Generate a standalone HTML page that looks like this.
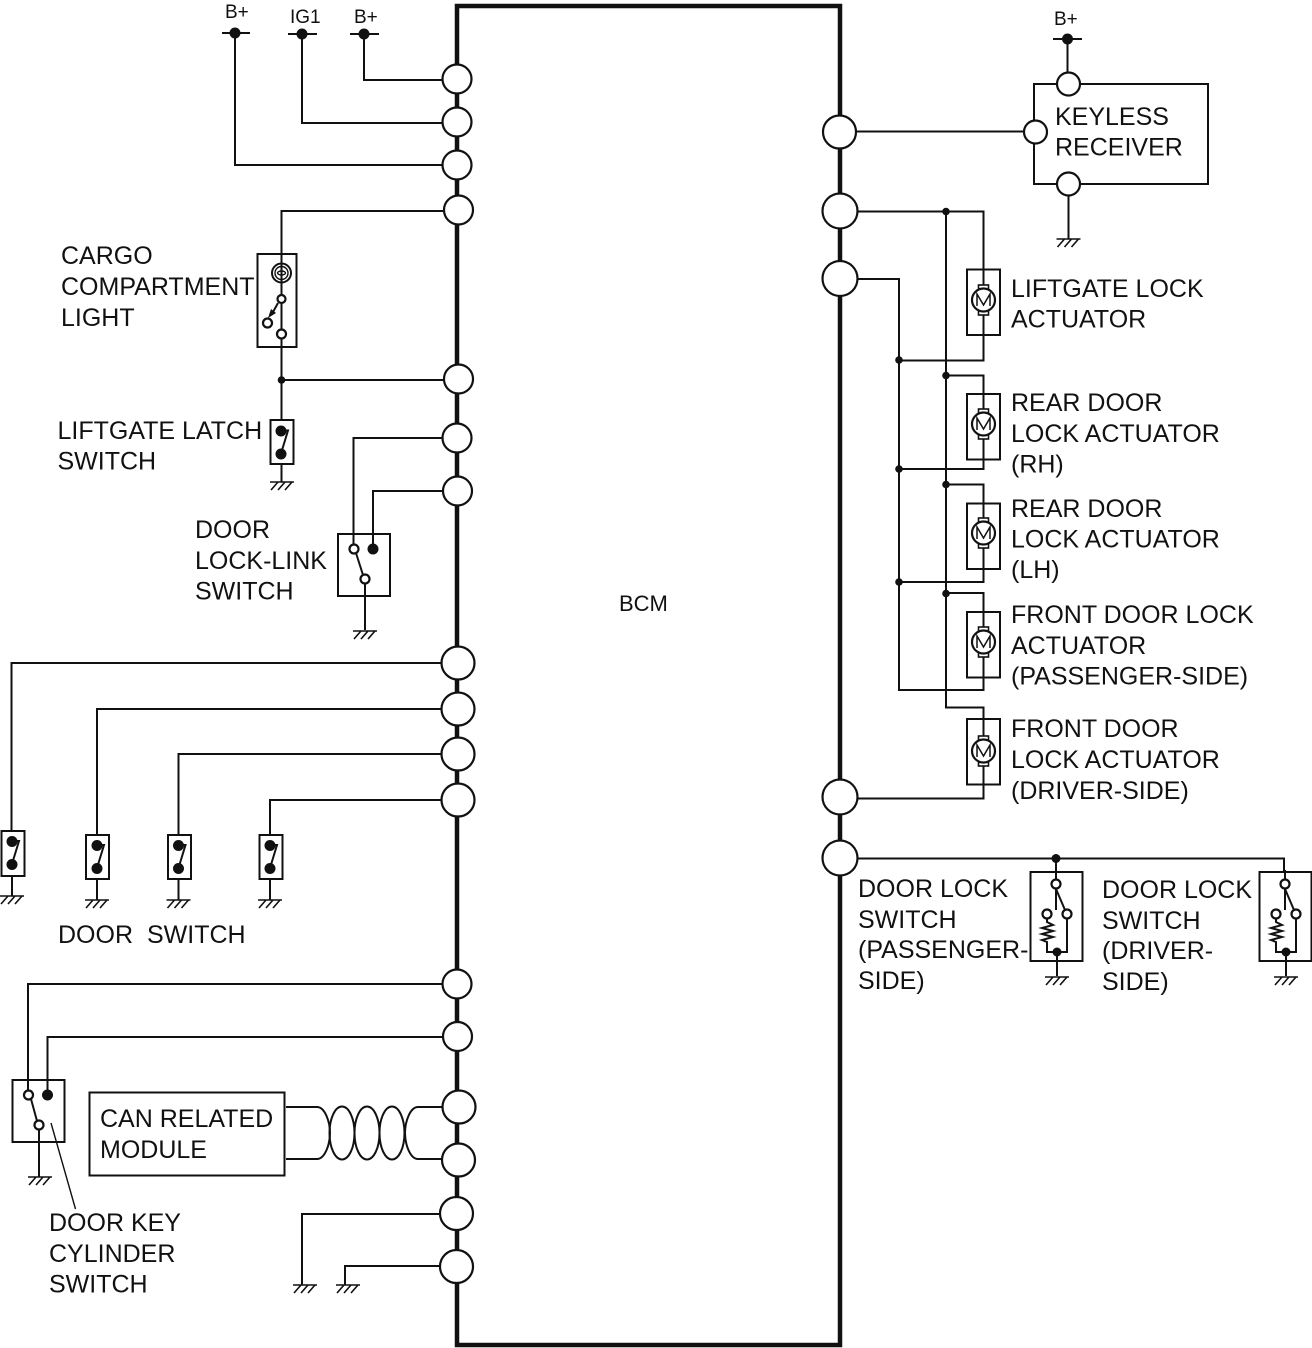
<!DOCTYPE html>
<html><head><meta charset="utf-8"><style>
html,body{margin:0;padding:0;background:#fff}
svg{display:block}
text{font-family:"Liberation Sans",sans-serif;fill:#111;font-size:25px}
.s{font-size:19px}
.w{fill:none;stroke:#111;stroke-width:2}
.o{fill:#fff;stroke:#111;stroke-width:2.200}
.f{fill:#111;stroke:none}
</style></head><body>
<svg width="1312" height="1348" viewBox="0 0 1312 1348" xmlns="http://www.w3.org/2000/svg">
<defs>
<g id="gnd" class="w" style="stroke-width:1.6"><path d="M-12 0H12M-4 0L-11 8M3 0L-4 8M10 0L3 8"/></g>
<g id="mot">
<rect class="o" x="-5" y="-15" width="10" height="30" style="stroke-width:1.6"/>
<circle class="o" r="11.5"/>
<path class="w" style="stroke-width:1.5" d="M-6.5 6V-6L0 5L6.5 -6V6"/>
</g>
<g id="sw">
<circle class="f" cy="-11.5" r="5.500"/><circle class="f" cy="11.5" r="5.500"/>
<path class="w" d="M0 -12H7L0 11"/>
</g>
<g id="dls">
<path class="w" d="M0 -14V26M-9 30V38L-3 41L-14 44L-3 47L-14 50L-3 53L-14 56L-9 58V68H11V30M1 68V92"/>
<path class="w" d="M0 5L9 26"/>
<circle class="o" cy="0" r="4.5"/><circle class="o" cx="-9" cy="30" r="4.5"/><circle class="o" cx="11" cy="30" r="4.5"/>
<circle class="f" cx="1" cy="68" r="4.5"/>
<use href="#gnd" x="1" y="93"/>
</g>
</defs>

<!-- BCM -->
<rect x="457" y="6" width="383" height="1339" fill="#fff" stroke="#111" stroke-width="4.5"/>
<text x="619" y="611" style="font-size:22px">BCM</text>

<!-- left wires -->
<g class="w">
<path d="M235 33V165H442M302 34V123H442M364 34V80H442"/>
<path d="M222 33H250M288 34H317M350 34H379"/>
<path d="M443 211H281.500V420M443 380H281.500"/>
<path d="M442 438H353.500V544M443 491H373V549"/>
<path d="M365 584V630"/>
<path d="M441 663H11.500V831M441 709H97V835M441 754H178.500V835M441 800H270V835"/>
<path d="M12 876V896M97 879V900M178.500 879V900M270 879V900M281.500 464V482"/>
<path d="M442 984H28V1090M443 1037H47.500V1095M39 1130V1177"/>
<path d="M442 1214H302V1285M440 1266H345V1285"/>
</g>

<!-- cargo light -->
<rect class="w" x="257.500" y="254" width="39" height="93"/>
<g>
<circle class="w" cx="281.500" cy="273" r="9.500"/>
<circle class="w" cx="281.500" cy="273" r="6.500" style="stroke-width:1.4"/>
<ellipse class="w" cx="281.500" cy="273" rx="4" ry="2" style="stroke-width:1.4"/>
<path class="w" d="M281.500 283V295M281.500 338V347"/>
<path class="w" d="M278 303L273 312"/>
<path class="f" d="M268 318L276 313L271 309Z"/>
<circle class="o" cx="281.500" cy="299" r="4"/>
<circle class="o" cx="267.500" cy="323" r="4.500"/>
<circle class="o" cx="281.500" cy="334" r="4.500"/>
<circle class="f" cx="281.500" cy="380" r="3.800"/>
</g>

<!-- liftgate latch -->
<rect class="w" x="270.500" y="420" width="23" height="44"/>
<use href="#sw" x="281" y="442.500"/>
<use href="#gnd" x="282" y="482"/>

<!-- lock-link -->
<rect class="w" x="338" y="534" width="52" height="62"/>
<path class="w" d="M356 553L363 575"/>
<circle class="o" cx="354" cy="549" r="4.500"/>
<circle class="f" cx="373" cy="549" r="5.500"/>
<circle class="o" cx="365" cy="579" r="4.500"/>
<use href="#gnd" x="365" y="631"/>

<!-- door switches -->
<rect class="w" x="1.500" y="831" width="23" height="45"/>
<use href="#sw" x="12" y="853"/><use href="#gnd" x="12" y="896"/>
<rect class="w" x="86" y="835" width="23" height="44"/>
<use href="#sw" x="97" y="857"/><use href="#gnd" x="97" y="900"/>
<rect class="w" x="168" y="835" width="23" height="44"/>
<use href="#sw" x="178.500" y="857"/><use href="#gnd" x="178.500" y="900"/>
<rect class="w" x="259.500" y="835" width="23" height="44"/>
<use href="#sw" x="270" y="857"/><use href="#gnd" x="270" y="900"/>

<!-- door key -->
<rect class="w" x="12.500" y="1080" width="52" height="62"/>
<path class="w" d="M31 1099L37 1121"/>
<circle class="o" cx="28.500" cy="1095" r="4.500"/>
<circle class="f" cx="47.500" cy="1095" r="5.500"/>
<circle class="o" cx="39" cy="1125" r="4.500"/>
<use href="#gnd" x="40" y="1177"/>
<path class="w" style="stroke-width:1.4" d="M51 1123L75.500 1209"/>

<!-- CAN -->
<rect class="w" x="89.500" y="1092.500" width="195" height="83"/>
<g class="w">
<path d="M286 1107H317C325 1107 330 1122 330 1133C330 1144 325 1159 317 1159H286"/>
<ellipse cx="342" cy="1133" rx="12.500" ry="26.500"/>
<ellipse cx="367" cy="1133" rx="12.500" ry="26.500"/>
<ellipse cx="392" cy="1133" rx="12.500" ry="26.500"/>
<path d="M442 1107H418C410 1107 405 1122 405 1133C405 1144 410 1159 418 1159H442"/>
</g>

<use href="#gnd" x="305" y="1285"/>
<use href="#gnd" x="348" y="1285"/>

<!-- left pins -->
<g class="o">
<circle cx="457" cy="79" r="14.500"/>
<circle cx="457" cy="122" r="14.500"/>
<circle cx="457" cy="165" r="14.500"/>
<circle cx="458.500" cy="210" r="14.500"/>
<circle cx="458.500" cy="379" r="14.500"/>
<circle cx="457" cy="438" r="14.500"/>
<circle cx="457.500" cy="491" r="14.500"/>
<circle cx="458" cy="663" r="16.500"/>
<circle cx="458" cy="709" r="16.500"/>
<circle cx="458" cy="754" r="16.500"/>
<circle cx="458" cy="800" r="16.500"/>
<circle cx="457" cy="984" r="14.500"/>
<circle cx="457.500" cy="1036.500" r="14.500"/>
<circle cx="459" cy="1107" r="16.500"/>
<circle cx="458.500" cy="1160" r="16.500"/>
<circle cx="456.500" cy="1213.500" r="16.500"/>
<circle cx="456.500" cy="1266.500" r="16.500"/>
</g>
<circle class="f" cx="235" cy="33" r="5.500"/>
<circle class="f" cx="302" cy="34" r="5.500"/>
<circle class="f" cx="364" cy="34" r="5.500"/>

<!-- right wires -->
<g class="w">
<path d="M857 131.500H1024"/>
<path d="M858 211.500H983.500V360.500H899"/>
<path d="M858 279H899V690H983.500V593H946"/>
<path d="M946 211V707.500H983.500V798.500H858"/>
<path d="M946 375.500H983.500V469H899"/>
<path d="M946 484.500H983.500V582H899"/>
<path d="M858 858.500H1284V872"/>
<path d="M1056 858V872"/>
<path d="M1053 39H1082M1067.500 39V72M1068.500 196V239"/>
</g>
<rect class="w" x="1034" y="84" width="174" height="100"/>
<circle class="f" cx="1067.500" cy="39" r="5.500"/>
<use href="#gnd" x="1068.500" y="239"/>
<circle class="o" cx="1068.500" cy="84" r="11.500"/>
<circle class="o" cx="1035.500" cy="132" r="11.500"/>
<circle class="o" cx="1068.500" cy="184" r="11.500"/>

<!-- actuators -->
<g class="w">
<rect x="967" y="269.500" width="33" height="65.500"/>
<rect x="967" y="394" width="33" height="65.500"/>
<rect x="967" y="503.500" width="33" height="65.500"/>
<rect x="967" y="612" width="33" height="65.500"/>
<rect x="967" y="719" width="33" height="65.500"/>
</g>
<use href="#mot" x="983.500" y="300"/>
<use href="#mot" x="983.500" y="424"/>
<use href="#mot" x="983.500" y="533"/>
<use href="#mot" x="983.500" y="642"/>
<use href="#mot" x="983.500" y="751"/>

<g class="f">
<circle cx="946" cy="211.500" r="3.800"/>
<circle cx="899" cy="360" r="3.800"/>
<circle cx="946" cy="375.500" r="3.800"/>
<circle cx="899" cy="469" r="3.800"/>
<circle cx="946" cy="484.500" r="3.800"/>
<circle cx="899" cy="582" r="3.800"/>
<circle cx="946" cy="593.500" r="3.800"/>
<circle cx="1056" cy="858.500" r="4.500"/>
</g>

<!-- door lock switches -->
<rect class="w" x="1030.500" y="872" width="52" height="89"/>
<rect class="w" x="1259.500" y="872" width="52" height="89"/>
<use href="#dls" x="1056" y="884"/>
<use href="#dls" x="1285" y="884"/>

<!-- right pins -->
<g class="o">
<circle cx="839.500" cy="132" r="16.500"/>
<circle cx="840" cy="211" r="17.500"/>
<circle cx="840" cy="278.500" r="17.500"/>
<circle cx="840" cy="797" r="17.500"/>
<circle cx="840" cy="858" r="17.500"/>
</g>

<!-- labels -->
<text class="s" x="225" y="18">B+</text>
<text class="s" x="290" y="23">IG1</text>
<text class="s" x="354" y="23">B+</text>
<text class="s" x="1054" y="25">B+</text>

<text x="61" y="264">CARGO</text>
<text x="61" y="295">COMPARTMENT</text>
<text x="61" y="326">LIGHT</text>
<text x="57.500" y="439">LIFTGATE LATCH</text>
<text x="57.500" y="469.500">SWITCH</text>
<text x="195" y="538">DOOR</text>
<text x="195" y="569">LOCK-LINK</text>
<text x="195" y="599.500">SWITCH</text>
<text x="58" y="943">DOOR</text>
<text x="147" y="943">SWITCH</text>
<text x="100" y="1127">CAN RELATED</text>
<text x="100" y="1158">MODULE</text>
<text x="49" y="1231">DOOR KEY</text>
<text x="49" y="1262">CYLINDER</text>
<text x="49" y="1292.500">SWITCH</text>

<text x="1055" y="125">KEYLESS</text>
<text x="1055" y="155.500">RECEIVER</text>
<text x="1011" y="297">LIFTGATE LOCK</text>
<text x="1011" y="327.500">ACTUATOR</text>
<text x="1011" y="411">REAR DOOR</text>
<text x="1011" y="442">LOCK ACTUATOR</text>
<text x="1011" y="472.500">(RH)</text>
<text x="1011" y="517">REAR DOOR</text>
<text x="1011" y="547.500">LOCK ACTUATOR</text>
<text x="1011" y="578">(LH)</text>
<text x="1011" y="623">FRONT DOOR LOCK</text>
<text x="1011" y="654">ACTUATOR</text>
<text x="1011" y="684.500">(PASSENGER-SIDE)</text>
<text x="1011" y="737">FRONT DOOR</text>
<text x="1011" y="768">LOCK ACTUATOR</text>
<text x="1011" y="799">(DRIVER-SIDE)</text>
<text x="858" y="897">DOOR LOCK</text>
<text x="858" y="928">SWITCH</text>
<text x="858" y="958">(PASSENGER-</text>
<text x="858" y="989">SIDE)</text>
<text x="1102" y="898">DOOR LOCK</text>
<text x="1102" y="929">SWITCH</text>
<text x="1102" y="959">(DRIVER-</text>
<text x="1102" y="990">SIDE)</text>
</svg>
</body></html>
